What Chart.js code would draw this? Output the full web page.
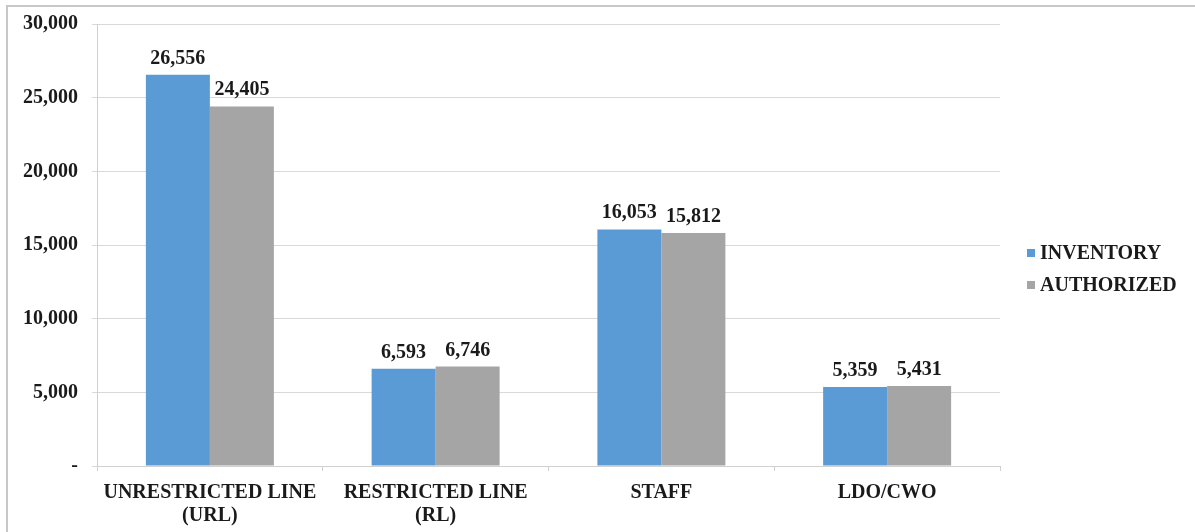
<!DOCTYPE html>
<html>
<head>
<meta charset="utf-8">
<script src="https://cdn.jsdelivr.net/npm/chart.js@4/dist/chart.umd.min.js"></script>
<style>
  html, body { margin: 0; padding: 0; background: #fff; overflow: hidden; }
  #frame {
    position: absolute; left: 6px; top: 5px; width: 1187px; height: 540px;
    border-top: 2px solid #c8c8c8; border-left: 2px solid #c8c8c8;
  }
  #wrap { position: absolute; left: 0; top: 0; width: 1195px; height: 532px; }
</style>
</head>
<body>
<div id="frame"></div>
<div id="wrap"><canvas id="chart" width="1195" height="532"></canvas></div>
<script>
// Officer community totals: inventory vs. authorized billets
const categories = [["UNRESTRICTED LINE", "(URL)"], ["RESTRICTED LINE", "(RL)"], "STAFF", "LDO/CWO"];
const inventory = [26556, 6593, 16053, 5359];
const authorized = [24405, 6746, 15812, 5431];
const yTicks = [0, 5000, 10000, 15000, 20000, 25000, 30000];

const fontFamily = "'Liberation Serif', 'Times New Roman', serif";
const boldFont = "bold 20px " + fontFamily;
const fmt = v => v === 0 ? '-' : v.toLocaleString('en-US');

// Writes each bar's value just above it
const valueLabels = {
  id: 'valueLabels',
  afterDatasetsDraw(chart) {
    const ctx = chart.ctx;
    ctx.save();
    ctx.font = boldFont;
    ctx.fillStyle = '#1a1a1a';
    ctx.textAlign = 'center';
    ctx.textBaseline = 'alphabetic';
    chart.data.datasets.forEach((ds, i) => {
      chart.getDatasetMeta(i).data.forEach((bar, j) => {
        ctx.fillText(fmt(ds.data[j]), bar.x, bar.y - 11);
      });
    });
    ctx.restore();
  }
};

// Series key to the right of the plot: small square swatch, bold label
const sideLegend = {
  id: 'sideLegend',
  afterDraw(chart) {
    const ctx = chart.ctx;
    const x = chart.chartArea.right + 27;
    const midY = chart.height / 2 + 3;
    const step = 32;
    const sets = chart.data.datasets;
    ctx.save();
    ctx.font = boldFont;
    ctx.textBaseline = 'middle';
    ctx.textAlign = 'left';
    sets.forEach((ds, i) => {
      const y = midY + (i - (sets.length - 1) / 2) * step;
      ctx.fillStyle = ds.backgroundColor;
      ctx.fillRect(x, y - 4, 8, 8);
      ctx.fillStyle = '#1a1a1a';
      ctx.fillText(ds.label, x + 13, y + 1);
    });
    ctx.restore();
  }
};

new Chart(document.getElementById('chart'), {
  type: 'bar',
  data: {
    labels: categories,
    datasets: [
      { label: 'INVENTORY', data: inventory, backgroundColor: '#5b9bd5' },
      { label: 'AUTHORIZED', data: authorized, backgroundColor: '#a5a5a5' }
    ]
  },
  options: {
    responsive: false,
    animation: false,
    devicePixelRatio: 1,
    layout: { padding: { top: 13, left: 9, right: 195, bottom: -5 } },
    datasets: { bar: { categoryPercentage: 0.567, barPercentage: 1.0 } },
    plugins: {
      legend: { display: false },
      tooltip: { enabled: false }
    },
    scales: {
      x: {
        grid: { drawOnChartArea: false, drawTicks: true, tickLength: 5, color: '#d0d0d0' },
        border: { color: '#d0d0d0' },
        ticks: {
          color: '#1a1a1a', padding: 10, maxRotation: 0,
          font: { family: fontFamily, size: 20, weight: 'bold', lineHeight: 1.15 }
        }
      },
      y: {
        min: 0, max: 30000,
        afterBuildTicks: axis => { axis.ticks = yTicks.map(v => ({ value: v })); },
        grid: { color: '#d9d9d9', tickLength: 5 },
        border: { color: '#d0d0d0' },
        ticks: {
          color: '#1a1a1a', padding: 14,
          font: { family: fontFamily, size: 20, weight: 'bold', lineHeight: 1.0 },
          callback: v => fmt(v)
        }
      }
    }
  },
  plugins: [valueLabels, sideLegend]
});
</script>
</body>
</html>
